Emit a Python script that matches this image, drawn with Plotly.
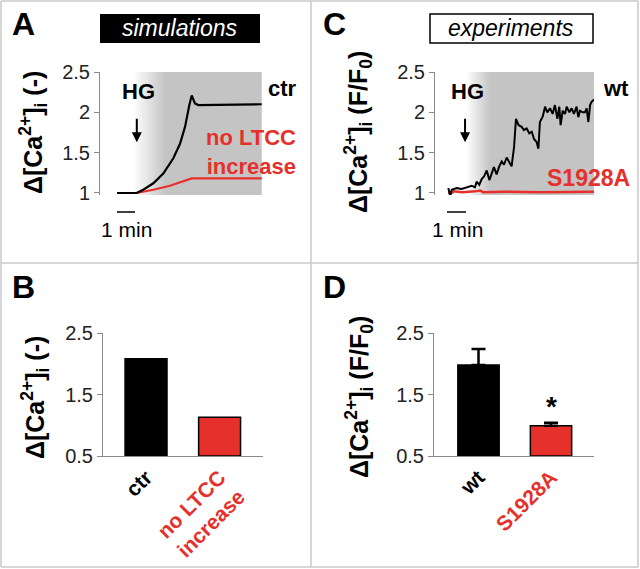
import plotly.graph_objects as go

# ---- data ----
# A: simulated Ca transients (time in min)
sim_t = [0.0, 1.09, 1.46, 2.02, 2.57, 3.13, 3.5, 3.78, 4.02, 4.15, 4.33, 4.52, 8.04]
sim_ctr = [1.0, 1.0, 1.04, 1.12, 1.24, 1.43, 1.61, 1.82, 2.09, 2.21, 2.11, 2.09, 2.10]
sim_red_t = [1.09, 2.02, 2.94, 3.69, 4.15, 8.04]
sim_red = [1.0, 1.04, 1.09, 1.14, 1.18, 1.18]
sim_hg = [0.9, 8.04]

# C: experimental traces
exp_t = [0.07, 0.16, 0.25, 0.51, 0.77, 1.04, 1.30, 1.47, 1.56, 1.70, 1.82, 1.96, 2.09, 2.23, 2.35,
         2.47, 2.61, 2.75, 2.88, 3.00, 3.14, 3.32, 3.40, 3.53, 3.63, 3.77, 3.93, 4.05, 4.19,
         4.33, 4.46, 4.58, 4.72, 4.81, 4.89, 5.04, 5.16, 5.28, 5.42, 5.56, 5.68, 5.81, 5.91,
         5.98, 6.09, 6.21, 6.30, 6.44, 6.56, 6.68, 6.82, 6.91, 7.00, 7.14, 7.26, 7.35, 7.44,
         7.53, 7.61, 7.74]
exp_wt = [1.06, 0.97, 1.04, 1.06, 1.05, 1.07, 1.09, 1.07, 1.14, 1.10, 1.17, 1.21, 1.28, 1.16, 1.24,
          1.32, 1.23, 1.33, 1.39, 1.35, 1.44, 1.37, 1.33, 1.57, 1.92, 1.84, 1.82, 1.78, 1.80,
          1.74, 1.76, 1.67, 1.63, 1.55, 1.88, 1.95, 2.07, 2.00, 2.05, 1.98, 2.09, 1.92, 2.07,
          1.84, 2.02, 1.98, 2.07, 2.00, 2.05, 1.98, 2.07, 1.94, 2.02, 2.00, 2.00, 2.05, 1.88,
          2.09, 2.13, 2.16]
exp_red_t = [0.07, 0.2, 0.35, 0.8, 1.5, 1.75, 1.9, 3.0, 5.0, 6.5, 7.74]
exp_s1928a = [1.01, 0.99, 1.02, 1.01, 1.02, 1.03, 1.01, 1.015, 1.01, 1.015, 1.015]
exp_hg = [1.0, 7.74]

# B / D: summary bars
sim_groups = ['ctr', 'no LTCC<br>increase']
sim_vals = [2.08, 1.13]
exp_groups = ['wt', 'S1928A']
exp_vals = [1.98, 0.99]
exp_err = [0.26, 0.05]

BLACK = '#000000'
RED = '#e5302b'
GRAY = 'rgb(196,196,196)'
AXC = '#8a8a8a'
FONT = 'Liberation Sans'


def px(x):
    return x / 640


def py(y):
    return 1 - y / 569


fig = go.Figure()


def shade(win, ylo, yhi, stop, xa, ya):
    fig.add_trace(go.Scatter(
        x=[win[0], win[1], win[1], win[0], win[0]], y=[ylo, ylo, yhi, yhi, ylo],
        mode='lines', line=dict(width=0), fill='toself',
        fillgradient=dict(type='horizontal',
                          colorscale=[[0, 'rgba(196,196,196,0)'], [stop, GRAY], [1, GRAY]]),
        xaxis=xa, yaxis=ya, hoverinfo='skip', showlegend=False))


# panel A
shade(sim_hg, 0.975, 2.5, 0.25, 'x', 'y')
fig.add_trace(go.Scatter(x=sim_red_t, y=sim_red, mode='lines', line=dict(color=RED, width=2.2),
                         xaxis='x', yaxis='y', showlegend=False))
fig.add_trace(go.Scatter(x=sim_t, y=sim_ctr, mode='lines', line=dict(color=BLACK, width=2.2),
                         xaxis='x', yaxis='y', showlegend=False))

# panel C
shade(exp_hg, 0.975, 2.5, 0.19, 'x3', 'y3')
fig.add_trace(go.Scatter(x=exp_red_t, y=exp_s1928a, mode='lines', line=dict(color=RED, width=2.5),
                         xaxis='x3', yaxis='y3', showlegend=False))
fig.add_trace(go.Scatter(x=exp_t, y=exp_wt, mode='lines', line=dict(color=BLACK, width=2),
                         xaxis='x3', yaxis='y3', showlegend=False))

# panel B
fig.add_trace(go.Bar(x=[0, 1], y=[v - 0.5 for v in sim_vals], base=0.5, width=0.57,
                     marker=dict(color=[BLACK, RED], line=dict(color=BLACK, width=1.5)),
                     xaxis='x2', yaxis='y2', showlegend=False))

# panel D
fig.add_trace(go.Bar(x=[0, 1], y=[v - 0.5 for v in exp_vals], base=0.5, width=0.57,
                     marker=dict(color=[BLACK, RED], line=dict(color=BLACK, width=1.5)),
                     error_y=dict(type='data', array=exp_err, arrayminus=[0, 0], symmetric=False,
                                  color=BLACK, thickness=2.5, width=7),
                     xaxis='x4', yaxis='y4', showlegend=False))

tickfont = dict(family=FONT, size=20, color='#222')
trace_y = dict(range=[0.975, 2.5], tickvals=[1, 1.5, 2, 2.5], ticktext=['1', '1.5', '2', '2.5'],
               showline=True, linecolor=AXC, linewidth=1, ticks='outside', ticklen=5,
               tickcolor=AXC, showgrid=False, zeroline=False, tickfont=tickfont, automargin=False)
bar_y = dict(range=[0.5, 2.5], tickvals=[0.5, 1.5, 2.5], ticktext=['0.5', '1.5', '2.5'],
             showline=True, linecolor=AXC, linewidth=1, ticks='outside', ticklen=5,
             tickcolor=AXC, showgrid=False, zeroline=False, tickfont=tickfont, automargin=False)
hidden_x = dict(visible=False, showgrid=False, zeroline=False, automargin=False)


def colored(label, color):
    # colour every line of a (possibly multi-line) tick label
    return '<br>'.join('<span style="color:%s"><b>%s</b></span>' % (color, part)
                       for part in label.split('<br>'))


def bar_x(rng, labels, colors):
    return dict(range=rng, tickvals=[0, 1], ticktext=[colored(l, c) for l, c in zip(labels, colors)],
                tickangle=-45, showline=True, linecolor=AXC, linewidth=1, ticks='',
                showgrid=False, zeroline=False, automargin=False,
                tickfont=dict(family=FONT, size=21, color=BLACK))


fig.update_layout(
    width=640, height=569, margin=dict(l=0, r=0, t=0, b=0, pad=0, autoexpand=False),
    paper_bgcolor='white', plot_bgcolor='rgba(0,0,0,0)',
    font=dict(family=FONT, color=BLACK),
    xaxis=dict(hidden_x, domain=[px(100), px(262)], range=[-17 / 18, 145 / 18], anchor='y'),
    yaxis=dict(trace_y, domain=[py(195), py(72)], anchor='x'),
    xaxis3=dict(hidden_x, domain=[px(435), px(594)], range=[-12 / 19, 147 / 19], anchor='y3'),
    yaxis3=dict(trace_y, domain=[py(195), py(72)], anchor='x3'),
    xaxis2=dict(bar_x([-0.585, 1.59], sim_groups, [BLACK, RED]), domain=[px(103), px(263)], anchor='y2'),
    yaxis2=dict(bar_y, domain=[py(456), py(333)], anchor='x2'),
    xaxis4=dict(bar_x([-0.614, 1.593], exp_groups, [BLACK, RED]), domain=[px(434), px(594)], anchor='y4'),
    yaxis4=dict(bar_y, domain=[py(456), py(333)], anchor='x4'),
)

shapes = []
# panel frame
for x0, y0, x1, y1 in [(1, 1, 638, 1), (1, 567, 638, 567), (1, 1, 1, 567), (638, 1, 638, 567),
                       (311, 1, 311, 567), (1, 263, 638, 263)]:
    shapes.append(dict(type='line', xref='paper', yref='paper', x0=px(x0), y0=py(y0), x1=px(x1), y1=py(y1),
                       line=dict(color='#c8c8c8', width=1.5)))
# title boxes
shapes.append(dict(type='rect', xref='paper', yref='paper', x0=px(100), x1=px(260), y0=py(43), y1=py(14),
                   fillcolor=BLACK, line=dict(width=0)))
shapes.append(dict(type='rect', xref='paper', yref='paper', x0=px(430), x1=px(593), y0=py(43), y1=py(14),
                   fillcolor='white', line=dict(color=BLACK, width=1.5)))
# 1 min scale bars
shapes.append(dict(type='line', xref='x', yref='paper', x0=0, x1=1, y0=py(212), y1=py(212),
                   line=dict(color=BLACK, width=1.5)))
shapes.append(dict(type='line', xref='x3', yref='paper', x0=0, x1=1, y0=py(212), y1=py(212),
                   line=dict(color=BLACK, width=1.5)))
fig.update_layout(shapes=shapes)


def ann(x, y, text, size, color=BLACK, angle=0, xanchor='center', align='center'):
    fig.add_annotation(x=px(x), y=py(y), xref='paper', yref='paper', text=text, showarrow=False,
                       font=dict(family=FONT, size=size, color=color), textangle=angle,
                       xanchor=xanchor, yanchor='middle', align=align)


for letter, x, y in [('A', 23, 24), ('B', 23, 287), ('C', 334, 24), ('D', 334, 287)]:
    ann(x, y, '<b>%s</b>' % letter, 32)

ann(180, 28, '<i>simulations</i>', 23, color='white')
ann(511, 28, '<i>experiments</i>', 23)

ytitle_sim = '<b>Δ[Ca<sup>2+</sup>]<sub>i</sub> (-)</b>'
ytitle_exp = '<b>Δ[Ca<sup>2+</sup>]<sub>i</sub> (F/F<sub>0</sub>)</b>'
ann(33, 133, ytitle_sim, 25, angle=-90)
ann(358, 132, ytitle_exp, 25, angle=-90)
ann(35, 398, ytitle_sim, 25, angle=-90)
ann(359, 397, ytitle_exp, 25, angle=-90)

ann(138, 91, '<b>HG</b>', 22)
ann(467, 91, '<b>HG</b>', 22)
ann(266, 89, '<b>ctr</b>', 22, xanchor='left')
ann(601, 89, '<b>wt</b>', 22, xanchor='left')
ann(298, 152, '<b>no LTCC<br>increase</b>', 22, color=RED, xanchor='right', align='right')
ann(632, 178, '<b>S1928A</b>', 23, color=RED, xanchor='right')
ann(126, 230, '1 min', 21)
ann(457, 230, '1 min', 21)

# HG arrows
fig.add_annotation(x=1.1, y=1.63, xref='x', yref='y', ax=0, ay=-25, text='', showarrow=True,
                   arrowhead=2, arrowsize=1, arrowwidth=2, arrowcolor=BLACK)
fig.add_annotation(x=0.95, y=1.63, xref='x3', yref='y3', ax=0, ay=-25, text='', showarrow=True,
                   arrowhead=2, arrowsize=1, arrowwidth=2, arrowcolor=BLACK)
# significance star
fig.add_annotation(x=1, y=1.3, xref='x4', yref='y4', text='<b>*</b>', showarrow=False,
                   font=dict(family=FONT, size=28, color=BLACK))

# pin the plot to the page corner so the page is exactly the figure size
pin = ("document.body.style.margin='0';"
       "var d=document.getElementById('{plot_id}');"
       "d.parentElement.style.fontSize='0';d.parentElement.style.lineHeight='0';"
       "d.style.position='absolute';d.style.left='0px';d.style.top='0px';")
fig.write_html("out.html", post_script=pin, config={'displayModeBar': False})
